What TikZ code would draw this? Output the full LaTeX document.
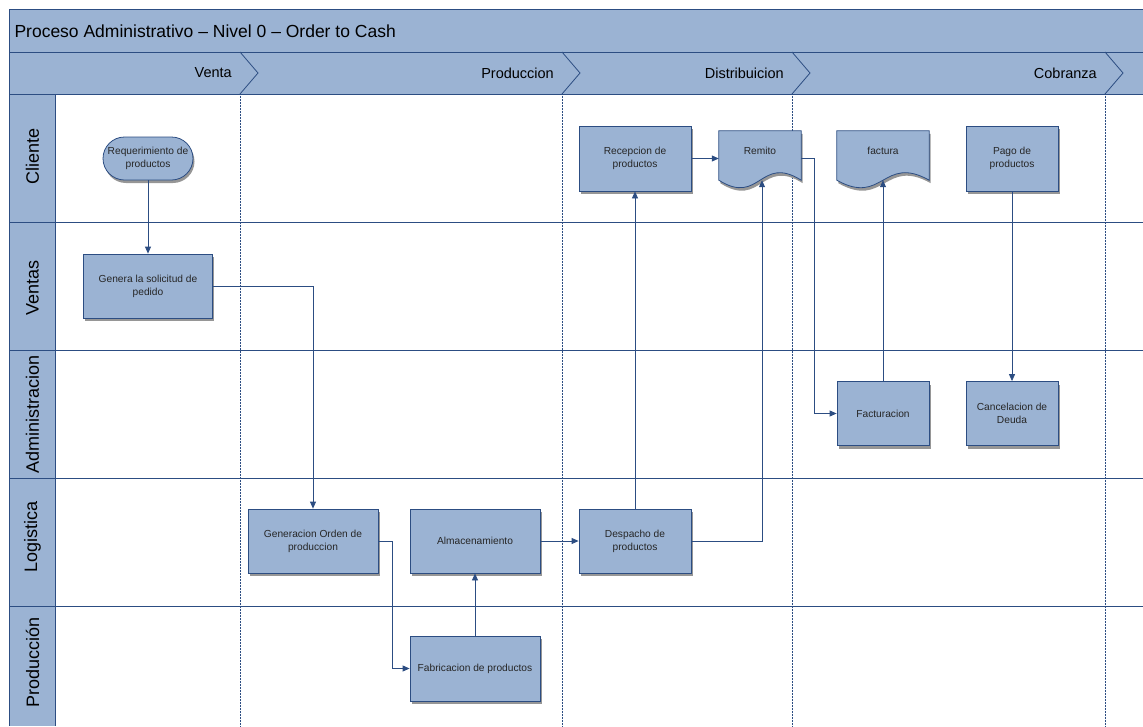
\documentclass[tikz,border=0pt]{standalone}
\usepackage{fontspec}
\setmainfont{Liberation Sans}
\usepackage{tikz}
\usetikzlibrary{positioning}
\usetikzlibrary{shapes.misc, arrows.meta, shadows}

\definecolor{laneblue}{RGB}{155,179,211}
\definecolor{linedark}{RGB}{44,77,130}
\definecolor{shadowgray}{RGB}{150,150,150}

% contorno de documento (borde inferior ondulado)
\newcommand{\docpath}[1]{(#1.north west) -- (#1.north east) -- (#1.south east) .. controls ([yshift=26pt]#1.south) and ([yshift=-26pt]#1.south) .. (#1.south west) -- cycle}
\newcommand{\docforma}[1]{%
  \fill[shadowgray, transform canvas={xshift=1.5pt, yshift=-3pt}] \docpath{#1};
  \filldraw[fill=laneblue, draw=linedark, line width=0.8pt] \docpath{#1};}

\begin{document}
\begin{tikzpicture}[x=1pt, y=-1pt,
  paso/.style={draw=linedark, fill=laneblue, line width=0.8pt, minimum height=64pt, align=center,
    font=\fontsize{10.2}{13}\selectfont, text=black!85,
    drop shadow={shadow xshift=1.5pt, shadow yshift=-3pt, fill=shadowgray, opacity=1}},
  docbox/.style={minimum width=#1, minimum height=49pt, inner sep=0pt},
  doctexto/.style={font=\fontsize{10.2}{13}\selectfont, text=black!85},
  flujo/.style={draw=linedark, line width=0.8pt, -{Triangle[length=7pt,width=6pt]}},
  carril/.style={draw=linedark, line width=0.8pt},
  fase/.style={font=\fontsize{14.5}{16}\selectfont, anchor=east, inner sep=0pt},
  etiqueta/.style={rotate=90, font=\fontsize{18}{20}\selectfont},
  division/.style={draw=linedark, densely dotted, line width=0.5pt}]

  \useasboundingbox (0,0) rectangle (1143,726);

  % encabezado y columna de carriles
  \fill[laneblue] (9.5,9.5) rectangle (1143,94);
  \fill[laneblue] (9.5,94) rectangle (55.5,726);
  \draw[carril] (1143,9.5) -- (9.5,9.5) -- (9.5,726);
  \draw[carril] (9.5,52) -- (1143,52);
  \draw[carril] (9.5,94) -- (1143,94);
  \draw[carril] (55.5,94) -- (55.5,726);
  \node[anchor=west, font=\fontsize{17.5}{20}\selectfont] (titulo) at (11,31) {Proceso Administrativo – Nivel 0 – Order to Cash};

  % fases
  \foreach \x/\fase in {240/Venta, 562/Produccion, 792/Distribuicion, 1105/Cobranza} {
    \draw[carril] (\x,52) -- (\x+18,73) -- (\x,94);
    \node[fase] (f-\x) at (\x-8,73) {\fase};
    \draw[division] (\x,94) -- (\x,726);
  }

  % carriles
  \foreach \y in {222, 350, 478, 606}
    \draw[carril] (9.5,\y) -- (1143,\y);
  \foreach \y/\nombre [count=\i] in {156/Cliente, 288/Ventas, 414/Administracion, 537/Logistica, 662/Producción}
    \node[etiqueta] (c\i) at (32.5,\y) {\nombre};

  % pasos
  \node[paso, rounded rectangle, minimum width=92pt, minimum height=43pt, inner sep=1pt] (req) at (148,158.5) {Requerimiento de\\productos};
  \node[paso, minimum width=129pt] (gen) at (148,286) {Genera la solicitud de\\pedido};
  \node[paso, minimum width=112pt, minimum height=65pt] (recep) at (635,158.5) {Recepcion de\\productos};
  \node[paso, minimum width=92pt, minimum height=65pt] (pago) at (1012,158.5) {Pago de\\productos};
  \node[paso, minimum width=92pt] (factu) at (883,413.5) {Facturacion};
  \node[paso, minimum width=92pt] (cancel) at (1012,413.5) {Cancelacion de\\Deuda};
  \node[paso, minimum width=130pt] (orden) at (313,541) {Generacion Orden de\\produccion};
  \node[paso, minimum width=130pt] (alma) at (475,541) {Almacenamiento};
  \node[paso, minimum width=112pt] (desp) at (635,541) {Despacho de\\productos};
  \node[paso, minimum width=130pt, minimum height=65pt] (fabri) at (475,668.5) {Fabricacion de productos};

  % documentos
  \node[docbox=82pt] (rem) at (760,155.5) {};
  \docforma{rem}
  \node[doctexto] (rem-t) at (760,151) {Remito};
  \node[docbox=92pt] (fac) at (883,155.5) {};
  \docforma{fac}
  \node[doctexto] (fac-t) at (883,151) {factura};

  % flujo
  \draw[flujo] (req.south) -- (gen.north);
  \draw[flujo] (gen.east) -| (orden.north);
  \draw[flujo] (orden.east) -- ++(14,0) |- (fabri.west);
  \draw[flujo] (fabri.north) -- (alma.south);
  \draw[flujo] (alma.east) -- (desp.west);
  \draw[flujo] (desp.north) -- (recep.south);
  \draw[flujo] (desp.east) -| ([xshift=2pt]rem.south);
  \draw[flujo] (recep.east) -- (recep.east -| rem.west);
  \draw[flujo] (rem.east |- recep.east) -- ++(13,0) |- (factu.west);
  \draw[flujo] (factu.north) -- (fac.south);
  \draw[flujo] (pago.south) -- (cancel.north);

\end{tikzpicture}
\end{document}
